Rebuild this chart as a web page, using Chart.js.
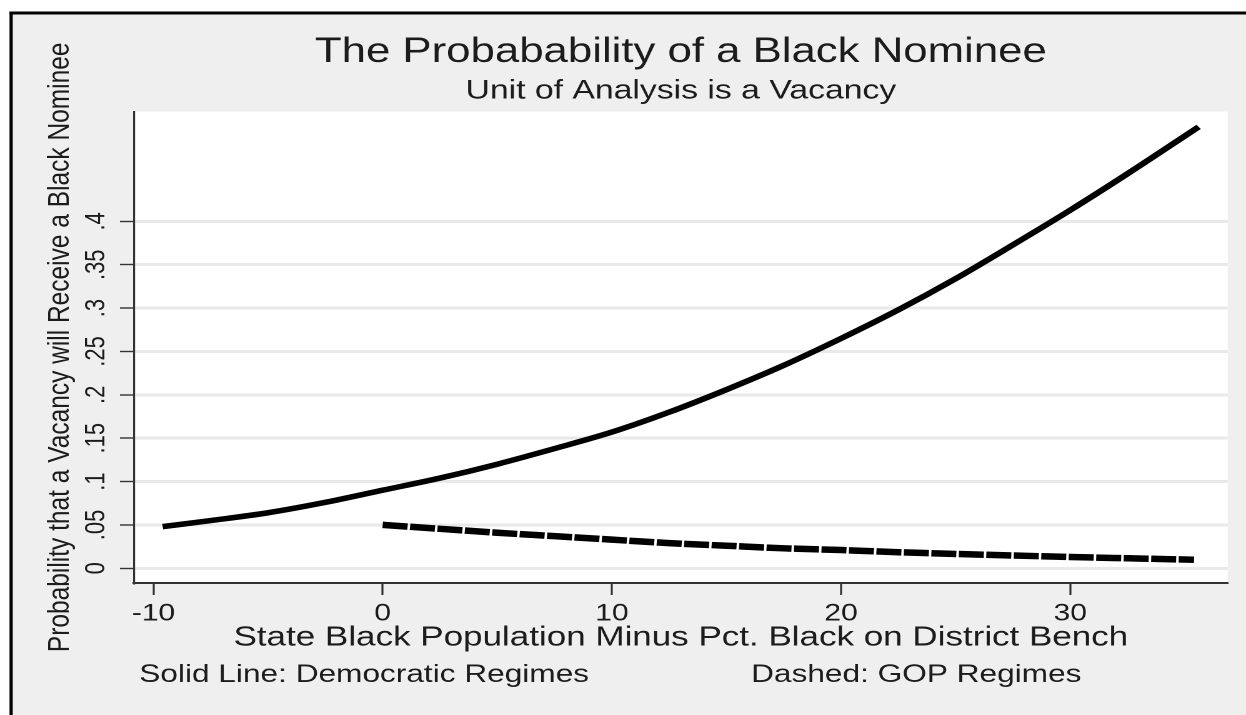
<!DOCTYPE html>
<html><head><meta charset="utf-8">
<script src="https://cdn.jsdelivr.net/npm/chart.js@4.4.1/dist/chart.umd.min.js"></script>
<style>
html,body{margin:0;padding:0;background:#fff;overflow:hidden}
</style></head><body>
<canvas id="c" width="997" height="715" style="display:block;width:1246px;height:715px"></canvas>
<script>
// ---- texts ----
const titleText = "The Probabability of a Black Nominee";
const subtitleText = "Unit of Analysis is a Vacancy";
const xAxisTitle = "State Black Population Minus Pct. Black on District Bench";
const yAxisTitle = "Probability that a Vacancy will Receive a Black Nominee";
const noteLeft = "Solid Line: Democratic Regimes";
const noteRight = "Dashed: GOP Regimes";

// ---- data ----
const demX = [-9.6, -7.5, -5, -2.5, 0, 2.5, 5, 7.5, 10, 12.5, 15, 17.5, 20, 22.5, 25, 27.5, 30, 32.5, 35.6];
const demY = [0.048, 0.055, 0.064, 0.076, 0.090, 0.104, 0.120, 0.138, 0.157, 0.180, 0.206, 0.234, 0.265, 0.298, 0.334, 0.373, 0.413, 0.455, 0.509];
const gopX = [0, 2.5, 5, 7.5, 10, 12.5, 15, 17.5, 20, 22.5, 25, 27.5, 30, 32.5, 35.4];
const gopY = [0.050, 0.0455, 0.041, 0.037, 0.033, 0.029, 0.026, 0.023, 0.021, 0.0185, 0.0165, 0.0147, 0.013, 0.0115, 0.0098];

// ---- ticks ----
const xTicks = [-10, 0, 10, 20, 30];
const xTickLabels = ["-10", "0", "10", "20", "30"];
const yTicks = [0, 0.05, 0.1, 0.15, 0.2, 0.25, 0.3, 0.35, 0.4];
const yTickLabels = ["0", ".05", ".1", ".15", ".2", ".25", ".3", ".35", ".4"];

const FAM = "'Liberation Sans', Arial, Helvetica, sans-serif";
const TXT = '#1c1c1c';
const BG = '#efefef';

const framePlugin = {
  id: 'frame',
  beforeDraw(chart) {
    const ctx = chart.ctx, W = chart.width, H = chart.height, a = chart.chartArea;
    ctx.save();
    ctx.fillStyle = '#ffffff'; ctx.fillRect(0, 0, W, H);
    ctx.fillStyle = BG; ctx.fillRect(10, 14.5, W, H);
    ctx.fillStyle = '#000000';
    ctx.fillRect(7.6, 11.5, 2.6, H);
    ctx.fillRect(7.6, 11.5, W, 3);
    ctx.fillStyle = '#ffffff';
    ctx.fillRect(a.left, a.top, a.right - a.left, a.bottom - a.top);
    ctx.restore();
  },
  afterDraw(chart) {
    const ctx = chart.ctx;
    ctx.save();
    ctx.font = "25.3px " + FAM;
    ctx.fillStyle = TXT;
    ctx.textBaseline = 'alphabetic';
    ctx.textAlign = 'left';
    ctx.fillText(noteLeft, 111.4, 682);
    ctx.fillText(noteRight, 601, 682);
    ctx.restore();
  }
};

new Chart(document.getElementById('c'), {
  type: 'line',
  data: {
    datasets: [
      {
        label: 'Democratic Regimes',
        data: demX.map((x, i) => ({x, y: demY[i]})),
        borderColor: '#000', borderWidth: 5.5, pointRadius: 0,
        cubicInterpolationMode: 'monotone', fill: false
      },
      {
        label: 'GOP Regimes',
        data: gopX.map((x, i) => ({x, y: gopY[i]})),
        borderColor: '#000', borderWidth: 6.5, pointRadius: 0,
        borderDash: [20, 2], borderCapStyle: 'butt',
        cubicInterpolationMode: 'monotone', fill: false
      }
    ]
  },
  options: {
    responsive: false,
    devicePixelRatio: 2,
    animation: false,
    events: [],
    layout: { padding: { left: 0, right: 14.6, top: 0, bottom: 0 } },
    plugins: {
      legend: { display: false },
      tooltip: { enabled: false },
      title: {
        display: true, text: titleText, fullSize: false, color: TXT,
        font: { family: FAM, size: 35, weight: 'normal' },
        padding: { top: 31.5, bottom: 0 }
      },
      subtitle: {
        display: true, text: subtitleText, fullSize: false, color: TXT,
        font: { family: FAM, size: 27, weight: 'normal' },
        padding: { top: 1.3, bottom: 4.4 }
      }
    },
    scales: {
      x: {
        type: 'linear', position: 'bottom',
        min: -10.85, max: 36.87,
        afterBuildTicks: s => { s.ticks = xTicks.map(v => ({ value: v })); },
        afterFit: s => { s.height = 132; },
        ticks: {
          autoSkip: false, maxRotation: 0, minRotation: 0,
          padding: 4.3, color: TXT,
          font: { family: FAM, size: 24 },
          callback: (v, i) => xTickLabels[i]
        },
        grid: { drawOnChartArea: false, drawTicks: true, tickLength: 12, tickWidth: 1.6, tickColor: '#333' },
        border: { display: true, color: '#333', width: 2 },
        title: {
          display: true, text: xAxisTitle, color: TXT,
          font: { family: FAM, size: 28 },
          padding: { top: 0, bottom: 60.5 }
        }
      },
      y: {
        type: 'linear', position: 'left',
        min: -0.017, max: 0.5266,
        afterBuildTicks: s => { s.ticks = yTicks.map(v => ({ value: v })); },
        afterFit: s => { s.width = 107.2; },
        ticks: {
          autoSkip: false, minRotation: 90, maxRotation: 90,
          crossAlign: 'center', padding: 3.5, color: TXT,
          font: { family: FAM, size: 22 },
          callback: (v, i) => yTickLabels[i]
        },
        grid: { color: '#e9e9e9', lineWidth: 3, drawTicks: true, tickLength: 11.2, tickWidth: 1.4, tickColor: '#333' },
        border: { display: true, color: '#333', width: 1.6 },
        title: {
          display: true, text: yAxisTitle, color: TXT,
          font: { family: FAM, size: 24.5 },
          padding: { top: 33.6, bottom: 0 }
        }
      }
    }
  },
  plugins: [framePlugin]
});
</script>
</body></html>
